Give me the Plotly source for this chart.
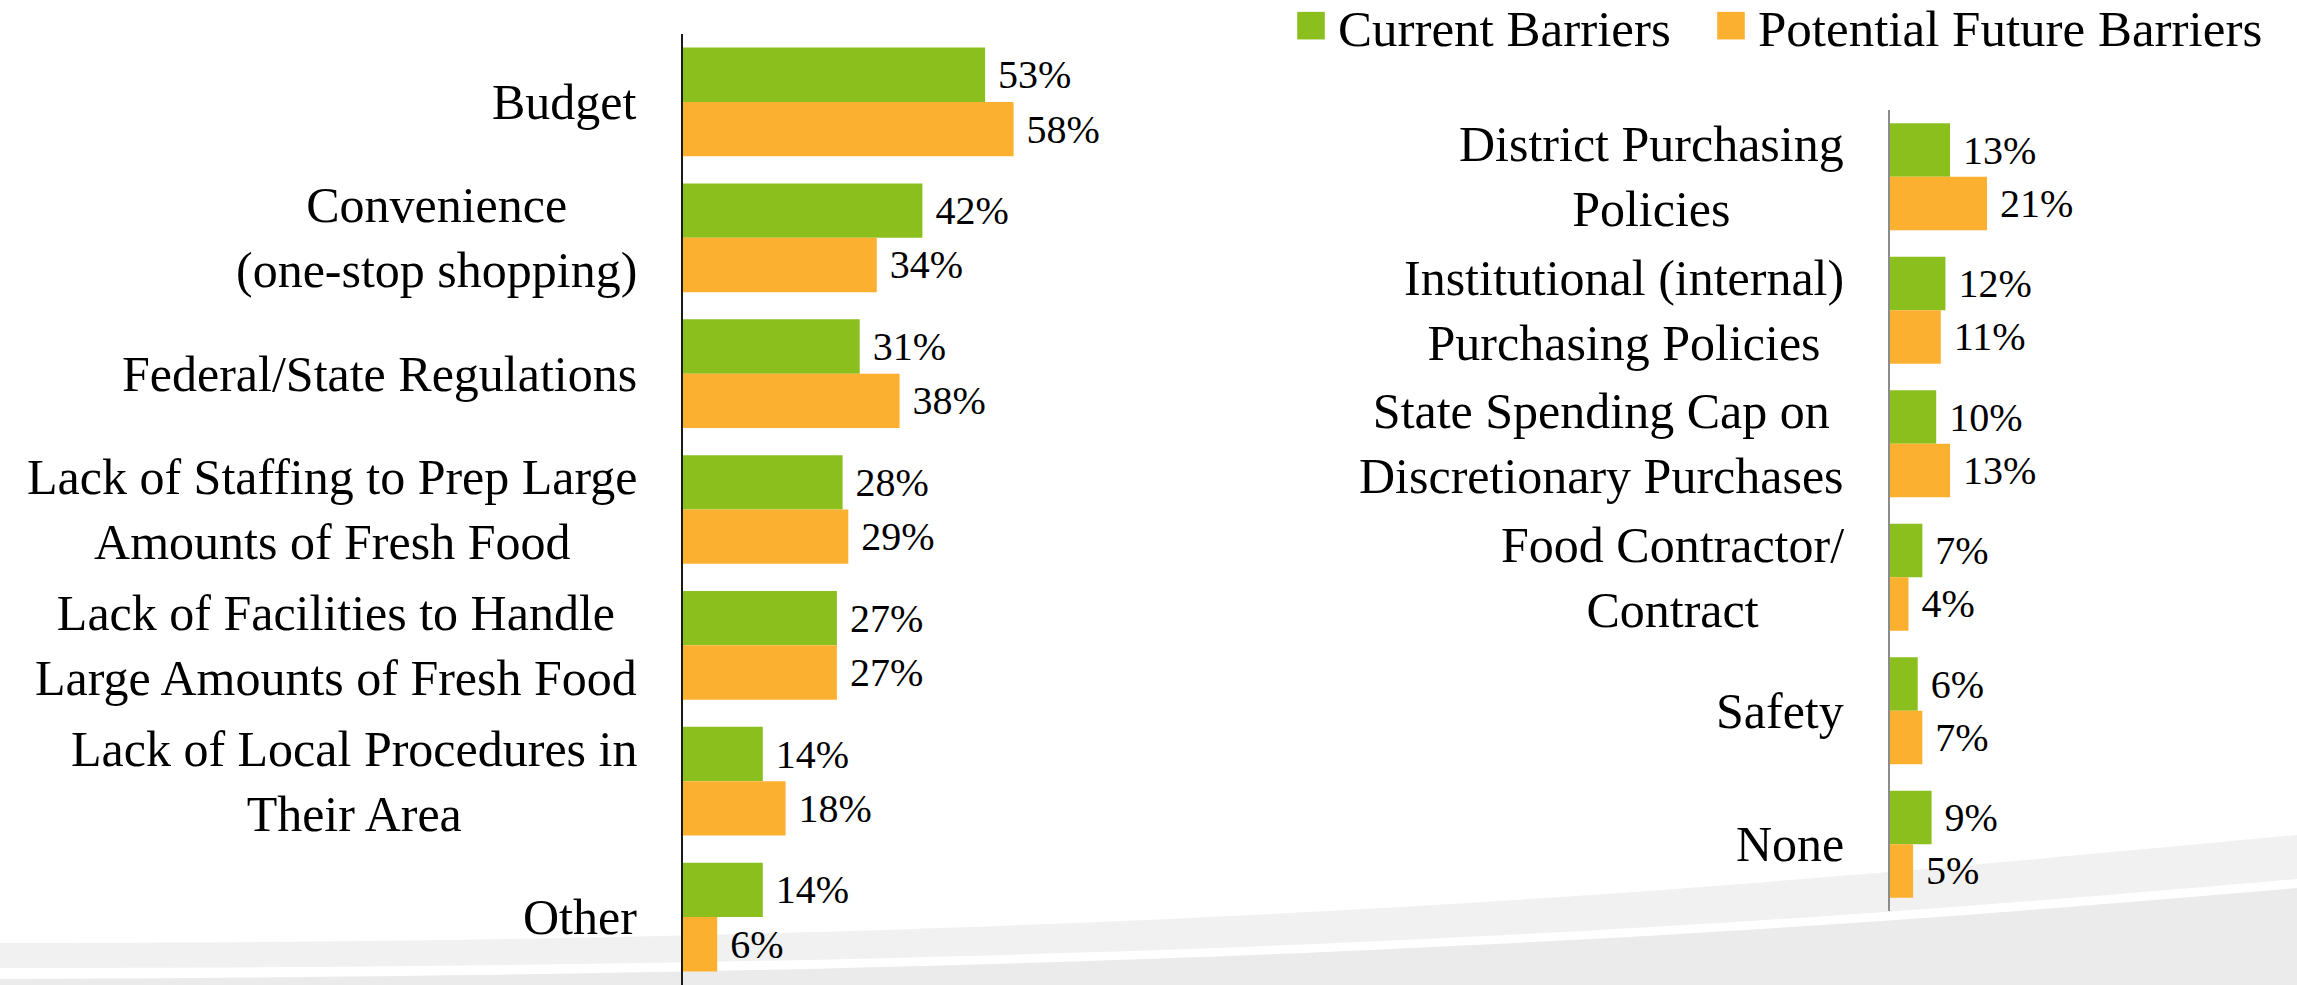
import plotly.graph_objects as go

W, H = 2297, 985

# ---------------- data ----------------
series_names = ["Current Barriers", "Potential Future Barriers"]
series_colors = ["#8BBF1D", "#FBB12F"]

left_categories = [
    "Budget",
    "Convenience (one-stop shopping)",
    "Federal/State Regulations",
    "Lack of Staffing to Prep Large Amounts of Fresh Food",
    "Lack of Facilities to Handle Large Amounts of Fresh Food",
    "Lack of Local Procedures in Their Area",
    "Other",
]
left_labels = [
    "Budget",
    "Convenience<br>(one-stop shopping)",
    "Federal/State Regulations",
    "Lack of Staffing to Prep Large<br>Amounts of Fresh Food",
    "Lack of Facilities to Handle<br>Large Amounts of Fresh Food",
    "Lack of Local Procedures in<br>Their Area",
    "Other",
]
left_current = [53, 42, 31, 28, 27, 14, 14]
left_future = [58, 34, 38, 29, 27, 18, 6]

right_categories = [
    "District Purchasing Policies",
    "Institutional (internal) Purchasing Policies",
    "State Spending Cap on Discretionary Purchases",
    "Food Contractor/ Contract",
    "Safety",
    "None",
]
right_labels = [
    "District Purchasing<br>Policies",
    "Institutional (internal)<br>Purchasing Policies",
    "State Spending Cap on<br>Discretionary Purchases",
    "Food Contractor/<br>Contract",
    "Safety",
    "None",
]
right_current = [13, 12, 10, 7, 6, 9]
right_future = [21, 11, 13, 4, 7, 5]

FONT = "Liberation Serif"
VAL_SIZE = 40
LAB_SIZE = 50
LEG_SIZE = 51

fig = go.Figure()


def add_bars(cats, values, name, color, xa, ya, showlegend, legend):
    fig.add_trace(go.Bar(
        y=cats, x=values, name=name, orientation="h",
        marker=dict(color=color, line=dict(width=0)),
        texttemplate="\u00a0%{x}%", textposition="outside",
        textfont=dict(family=FONT, size=VAL_SIZE, color="#000"),
        constraintext="none", cliponaxis=False,
        xaxis=xa, yaxis=ya, showlegend=showlegend, legend=legend, legendgroup=name,
        hoverinfo="skip",
    ))


add_bars(left_categories, left_current, series_names[0], series_colors[0], "x", "y", True, "legend")
add_bars(left_categories, left_future, series_names[1], series_colors[1], "x", "y", True, "legend2")
add_bars(right_categories, right_current, series_names[0], series_colors[0], "x2", "y2", False, "legend")
add_bars(right_categories, right_future, series_names[1], series_colors[1], "x2", "y2", False, "legend2")

annotations = []
for c, lab in zip(left_categories, left_labels):
    annotations.append(dict(x=0, y=c, xref="x", yref="y", xanchor="right", yanchor="middle",
                            xshift=-44, text=lab, showarrow=False, align="center",
                            font=dict(family=FONT, size=LAB_SIZE, color="#000")))
for c, lab in zip(right_categories, right_labels):
    annotations.append(dict(x=0, y=c, xref="x2", yref="y2", xanchor="right", yanchor="middle",
                            xshift=-44, text=lab, showarrow=False, align="center",
                            font=dict(family=FONT, size=LAB_SIZE, color="#000")))


# decorative background swoosh (paper coordinates)
def P(x, y):
    return f"{x / W:.5f},{1 - y / H:.5f}"


def band(y0, c1, c2, y1):
    return (f"M {P(0, y0)} C {P(1200, c1)} {P(1800, c2)} {P(W, y1)} "
            f"L {P(W, H + 2)} L {P(0, H + 2)} Z")


shapes = [
    dict(type="path", xref="paper", yref="paper", layer="below", line=dict(width=0),
         fillcolor="#F1F1F1", path=band(943, 943, 881, 835)),
    dict(type="path", xref="paper", yref="paper", layer="below", line=dict(width=0),
         fillcolor="#FFFFFF", path=band(968, 968, 922, 879)),
    dict(type="path", xref="paper", yref="paper", layer="below", line=dict(width=0),
         fillcolor="#EBEBEB", path=band(979, 975, 931, 888)),
]

LX0, LSCALE, LMAX = 683, 5.7, 78
RX0, RSCALE, RMAX = 1890, 4.62, 60


def legend_at(xpx):
    return dict(orientation="h", x=xpx / W, xanchor="left", y=1 - 26 / H, yanchor="middle",
                font=dict(family=FONT, size=LEG_SIZE, color="#000"), bgcolor="rgba(0,0,0,0)",
                itemwidth=44, itemclick=False, itemdoubleclick=False)


fig.update_layout(
    width=W, height=H,
    margin=dict(l=0, r=0, t=0, b=0, pad=0, autoexpand=False),
    paper_bgcolor="white", plot_bgcolor="rgba(0,0,0,0)",
    barmode="group", bargap=0.2, bargroupgap=0,
    font=dict(family=FONT, color="#000"),
    showlegend=True,
    legend=legend_at(1284),
    legend2=legend_at(1704),
    xaxis=dict(domain=[LX0 / W, (LX0 + LSCALE * LMAX) / W], range=[0, LMAX], visible=False, fixedrange=True),
    yaxis=dict(domain=[0, 1 - 34 / H], categoryorder="array", categoryarray=left_categories,
               autorange="reversed", showticklabels=False, showgrid=False, zeroline=False,
               showline=True, linecolor="#1A1A1A", linewidth=2, ticks="", fixedrange=True),
    xaxis2=dict(domain=[RX0 / W, (RX0 + RSCALE * RMAX) / W], range=[0, RMAX], visible=False,
                anchor="y2", fixedrange=True),
    yaxis2=dict(domain=[1 - 911 / H, 1 - 110 / H], anchor="x2", categoryorder="array",
                categoryarray=right_categories, autorange="reversed", showticklabels=False,
                showgrid=False, zeroline=False, showline=True, linecolor="#8C8C8C", linewidth=2,
                ticks="", fixedrange=True),
    annotations=annotations,
    shapes=shapes,
)

post = """
document.body.style.margin = '0';
document.body.style.overflow = 'hidden';
var gd = document.getElementsByClassName('plotly-graph-div')[0];
gd.querySelectorAll('.legendpoints path').forEach(function(p){
  var t = p.getAttribute('transform') || '';
  p.setAttribute('transform', t + ' scale(2.3)');
});
"""

fig.write_html("out.html", config=dict(displayModeBar=False), post_script=post)
